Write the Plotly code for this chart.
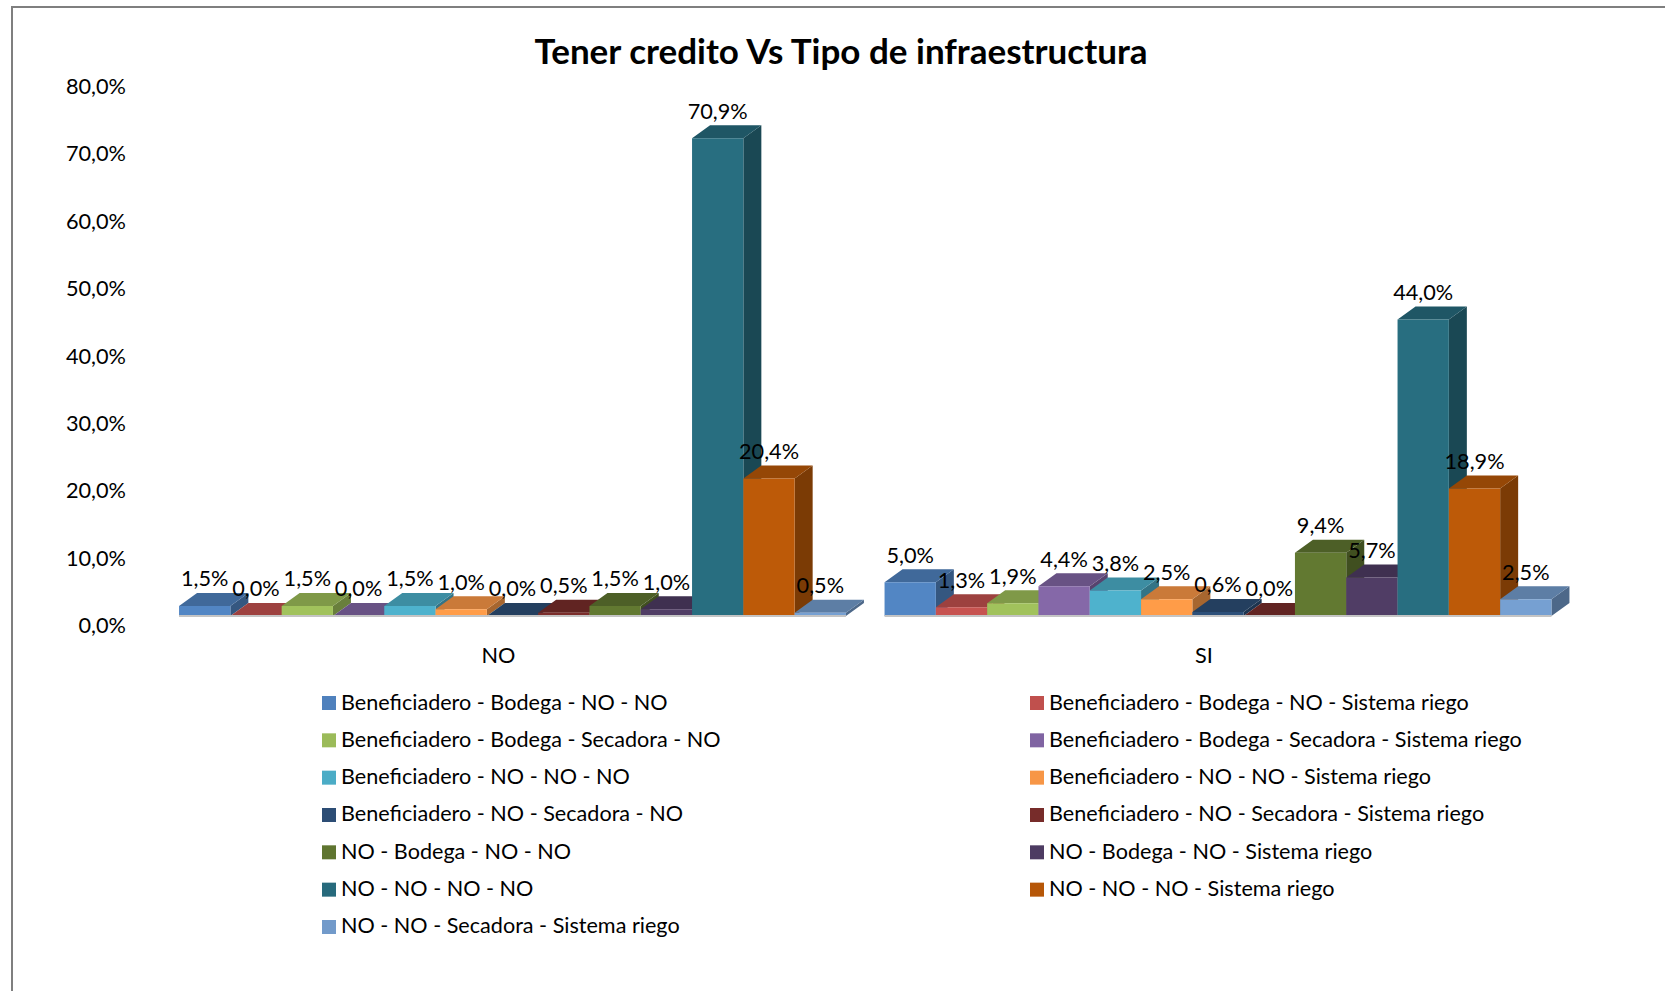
import plotly.graph_objects as go

W, H = 1665, 991
FONT = "Lato"

title = "Tener credito Vs Tipo de infraestructura"
categories = ["NO", "SI"]
series_names = [
    "Beneficiadero - Bodega - NO - NO",
    "Beneficiadero - Bodega - NO - Sistema riego",
    "Beneficiadero - Bodega - Secadora - NO",
    "Beneficiadero - Bodega - Secadora - Sistema riego",
    "Beneficiadero - NO - NO - NO",
    "Beneficiadero - NO - NO - Sistema riego",
    "Beneficiadero - NO - Secadora - NO",
    "Beneficiadero - NO - Secadora - Sistema riego",
    "NO - Bodega - NO - NO",
    "NO - Bodega - NO - Sistema riego",
    "NO - NO - NO - NO",
    "NO - NO - NO - Sistema riego",
    "NO - NO - Secadora - Sistema riego",
]
values_no = [1.5, 0.0, 1.5, 0.0, 1.5, 1.0, 0.0, 0.5, 1.5, 1.0, 70.9, 20.4, 0.5]
values_si = [5.0, 1.3, 1.9, 4.4, 3.8, 2.5, 0.6, 0.0, 9.4, 5.7, 44.0, 18.9, 2.5]
colors = ["#4F81BD", "#C0504D", "#9BBB59", "#8064A2", "#4BACC6", "#F79646", "#2C4D75",
          "#772C2A", "#5F7530", "#4D3B62", "#276A7C", "#B65708", "#729ACA"]
y_ticks = [0, 10, 20, 30, 40, 50, 60, 70, 80]

# layout geometry (pixels of the page)
PX_PER_UNIT = 6.74
ZERO_PX = 625.5          # where the 0,0% tick sits
FLOOR_PX = 616.0         # front edge of the 3D floor
SLOT_PX = 705.5
CENTER0_PX = 512.5
BAR_PX = 51.3
DEPTH_X_PX, DEPTH_Y_PX = 18.0, 13.0
PLOT_L, PLOT_T, PLOT_B = 127.0, 70.0, 640.0

floor = (ZERO_PX - FLOOR_PX) / PX_PER_UNIT
dx, dy = DEPTH_X_PX / SLOT_PX, DEPTH_Y_PX / PX_PER_UNIT
bar_w = BAR_PX / SLOT_PX
n = len(series_names)
bargap = 1 - n * bar_w
x_range = [(PLOT_L - CENTER0_PX) / SLOT_PX, (W - CENTER0_PX) / SLOT_PX]
y_range = [(ZERO_PX - PLOT_B) / PX_PER_UNIT, (ZERO_PX - PLOT_T) / PX_PER_UNIT]


def shade(hex_color, k):
    r, g, b = (int(hex_color[i:i + 2], 16) for i in (1, 3, 5))
    return f"rgb({min(255, int(r * k))},{min(255, int(g * k))},{min(255, int(b * k))})"


def pct(v):
    return f"{v:.1f}%".replace(".", ",")


fig = go.Figure()
series_values = list(zip(values_no, values_si))

# side and top faces, left to right
for j, (name, col, vals) in enumerate(zip(series_names, colors, series_values)):
    side_x, side_y, top_x, top_y = [], [], [], []
    for g, v in enumerate(vals):
        left = g + (j - n / 2) * bar_w
        right = left + bar_w
        t = floor + v
        side_x += [right, right + dx, right + dx, right, right, None]
        side_y += [floor, floor + dy, t + dy, t, floor, None]
        top_x += [left, right, right + dx, left + dx, left, None]
        top_y += [t, t, t + dy, t + dy, t, None]
    for xs, ys, k in ((side_x, side_y, 0.68), (top_x, top_y, 0.82)):
        fig.add_trace(go.Scatter(x=xs, y=ys, mode="lines", fill="toself",
                                 fillcolor=shade(col, k), line=dict(width=0),
                                 showlegend=False, hoverinfo="skip", name=name))

# front faces, in an overlaid subplot so they sit above every other face
for name, col, vals in zip(series_names, colors, series_values):
    fig.add_trace(go.Bar(x=[0, 1], y=list(vals), base=floor, name=name, xaxis="x2", yaxis="y2",
                         marker=dict(color=shade(col, 1.04), line=dict(width=0)), showlegend=False))

# floor edge
for g in range(len(categories)):
    fig.add_trace(go.Scatter(x=[g - n / 2 * bar_w, g + n / 2 * bar_w], y=[floor, floor],
                             mode="lines", line=dict(color="#c4c4c4", width=2), xaxis="x2", yaxis="y2",
                             showlegend=False, hoverinfo="skip"))

# data labels
lab_x, lab_y, lab_t = [], [], []
for j, vals in enumerate(series_values):
    for g, v in enumerate(vals):
        lab_x.append(g + (j + 0.5 - n / 2) * bar_w)
        lab_y.append(floor + v + 25 / PX_PER_UNIT)
        lab_t.append(pct(v))
fig.add_trace(go.Scatter(x=lab_x, y=lab_y, text=lab_t, mode="text", textposition="middle center",
                         textfont=dict(family=FONT, size=21.7, color="#000000"),
                         xaxis="x2", yaxis="y2", showlegend=False, hoverinfo="skip"))

# legend, two columns
shapes = []
annotations = []
for i, (name, col) in enumerate(zip(series_names, colors)):
    row, c = i // 2, i % 2
    xm = 322 + c * 708
    yc = 703 + row * 37.33
    shapes.append(dict(type="rect", xref="paper", yref="paper", x0=xm / W, x1=(xm + 14) / W,
                       y0=1 - (yc + 7) / H, y1=1 - (yc - 7) / H, fillcolor=col, line=dict(width=0)))
    annotations.append(dict(text=name, xref="paper", yref="paper", x=(xm + 17) / W, y=1 - (yc - 1.5) / H,
                            xanchor="left", yanchor="middle", showarrow=False,
                            font=dict(family=FONT, size=21.6, color="#000000")))

# outer frame, open to the right and bottom
frame = "#7f7f7f"
shapes.append(dict(type="line", xref="paper", yref="paper", x0=12 / W, x1=12 / W, y0=0, y1=1 - 7 / H,
                   line=dict(color=frame, width=2)))
shapes.append(dict(type="line", xref="paper", yref="paper", x0=11 / W, x1=1, y0=1 - 7 / H, y1=1 - 7 / H,
                   line=dict(color=frame, width=2)))

axis_common = dict(showgrid=False, zeroline=False, showline=False, ticks="")
fig.update_layout(
    width=W, height=H,
    margin=dict(l=0, r=0, t=0, b=0, autoexpand=False),
    paper_bgcolor="white", plot_bgcolor="white",
    barmode="group", bargap=bargap, bargroupgap=0,
    showlegend=False,
    font=dict(family=FONT, size=21.7, color="#000000"),
    title=dict(text=f"<b>{title}</b>", x=841 / W, xanchor="center", y=1 - 52 / H, yanchor="middle",
               font=dict(family=FONT, size=35, color="#000000")),
    xaxis=dict(domain=[PLOT_L / W, 1], range=x_range, tickmode="array",
               tickvals=[g - 14 / SLOT_PX for g in range(len(categories))], ticktext=categories,
               tickfont=dict(family=FONT, size=21.7), **axis_common),
    yaxis=dict(domain=[1 - PLOT_B / H, 1 - PLOT_T / H], range=y_range, tickmode="array",
               tickvals=y_ticks, ticktext=[pct(v) for v in y_ticks],
               tickfont=dict(family=FONT, size=21.7), **axis_common),
    xaxis2=dict(overlaying="x", matches="x", visible=False),
    yaxis2=dict(overlaying="y", matches="y", visible=False),
    shapes=shapes, annotations=annotations,
)

fig.write_html("out.html", config=dict(displayModeBar=False),
               post_script="document.body.style.margin='0';document.body.style.overflow='hidden';")
